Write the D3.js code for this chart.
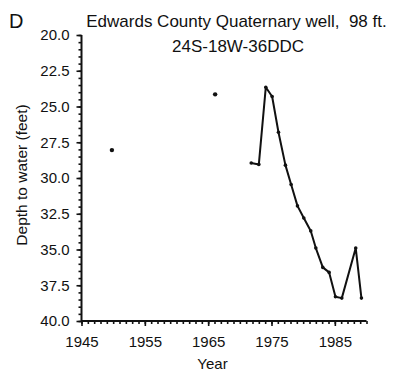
<!DOCTYPE html>
<html><head><meta charset="utf-8">
<script src="https://cdn.jsdelivr.net/npm/d3@7"></script>
<style>
body{margin:0;background:#fff;}
svg{display:block;font-family:"Liberation Sans",Arial,Helvetica,sans-serif;}
text{white-space:pre;}
</style></head>
<body>
<svg id="c" width="400" height="377"></svg>
<script>
const panelLabel = "D";
const titleLines = ["Edwards County Quaternary well,  98 ft.", "24S-18W-36DDC"];
const xLabel = "Year";
const yLabel = "Depth to water (feet)";
const xTicks = [1945, 1955, 1965, 1975, 1985];
const yTicks = [20.0, 22.5, 25.0, 27.5, 30.0, 32.5, 35.0, 37.5, 40.0];
// isolated measurements
const pointYears = [1949.8, 1966.1];
const pointDepths = [28.05, 24.15];
// continuous record
const lineYears = [1971.8, 1973.0, 1974.1, 1975.1, 1976.1, 1977.2, 1978.1, 1979.1, 1980.1, 1981.2, 1982.0, 1983.1, 1984.1, 1985.1, 1986.1, 1988.3, 1989.2];
const lineDepths = [28.95, 29.05, 23.65, 24.3, 26.8, 29.1, 30.45, 31.95, 32.8, 33.7, 34.9, 36.25, 36.6, 38.3, 38.4, 34.9, 38.4];

const svg = d3.select("#c");
const x = d3.scaleLinear().domain([1945, 1990]).range([81.5, 366.5]);
const y = d3.scaleLinear().domain([20, 40]).range([35, 321]);

const ink = "#111";
// axes
const yAxis = d3.axisLeft(y).tickValues(yTicks).tickFormat(d3.format(".1f")).tickSize(5).tickPadding(7);
const yMinor = d3.axisLeft(y).tickValues(d3.range(20, 40.01, 0.5)).tickFormat("").tickSize(3);
const xAxis = d3.axisBottom(x).tickValues(xTicks).tickFormat(d3.format("d")).tickSize(5).tickPadding(10);
const xMinor = d3.axisBottom(x).tickValues(d3.range(1945, 1990.01, 1)).tickFormat("").tickSize(3);

function style(g){
  g.selectAll("path").attr("stroke", ink).attr("stroke-width", 2);
  g.selectAll("line").attr("stroke", ink).attr("stroke-width", 1.6);
  g.selectAll("text").attr("fill", ink).attr("font-size", 15);
}
const gxm = svg.append("g").attr("transform", "translate(0,321)").call(xMinor);
gxm.select(".domain").remove(); style(gxm);
const gym = svg.append("g").attr("transform", "translate(81.5,0)").call(yMinor);
gym.select(".domain").remove(); style(gym);
const gx = svg.append("g").attr("transform", "translate(0,321)").call(xAxis).call(style);
gx.select(".domain").attr("d", `M${x(1945)},0H${x(1990)}`);
const gy = svg.append("g").attr("transform", "translate(81.5,0)").call(yAxis).call(style);
gy.select(".domain").attr("d", `M0,${y(20)}V${y(40)}`);

// line
const line = d3.line().x((d,i)=>x(lineYears[i])).y((d,i)=>y(lineDepths[i]));
svg.append("path").datum(lineDepths).attr("d", line).attr("fill","none").attr("stroke", ink).attr("stroke-width", 2).attr("stroke-linejoin","round");
svg.append("g").selectAll("circle").data(lineDepths).join("circle")
  .attr("cx",(d,i)=>x(lineYears[i])).attr("cy",d=>y(d)).attr("r",1.8).attr("fill",ink);
svg.append("g").selectAll("circle").data(pointDepths).join("circle")
  .attr("cx",(d,i)=>x(pointYears[i])).attr("cy",d=>y(d)).attr("r",2.2).attr("fill",ink);

// texts
svg.append("text").attr("x", 9).attr("y", 28).attr("font-size", 20).attr("fill", ink).text(panelLabel);
svg.append("text").attr("x", 236.5).attr("y", 27).attr("text-anchor","middle").attr("font-size", 17).attr("fill", ink).text(titleLines[0]);
svg.append("text").attr("x", 238).attr("y", 52).attr("text-anchor","middle").attr("font-size", 17).attr("fill", ink).text(titleLines[1]);
svg.append("text").attr("x", 212.5).attr("y", 369).attr("text-anchor","middle").attr("font-size", 15).attr("fill", ink).text(xLabel);
svg.append("text").attr("transform","translate(27,175) rotate(-90)").attr("text-anchor","middle").attr("font-size", 15.5).attr("fill", ink).text(yLabel);
</script>
</body></html>
